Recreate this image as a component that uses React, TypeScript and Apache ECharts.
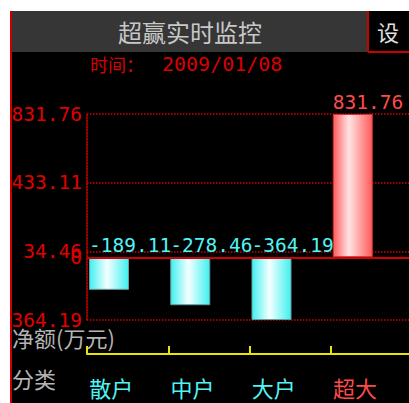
import React, { useEffect, useRef } from 'react';
import * as echarts from 'echarts';

const categories = ['散户', '中户', '大户', '超大'];
const netValues = [-189.11, -278.46, -364.19, 831.76];
const yTickLabels = ['-364.19', '34.46', '433.11', '831.76'];
const yMin = -364.19;
const yMax = 831.76;
const titleText = '超赢实时监控';
const settingText = '设';
const dateCaption = '时间：';
const dateValue = '2009/01/08';
const unitText = '净额(万元)';
const categoryTitle = '分类';

const CYAN = '#50f4f4';
const RED_TXT = '#ff4a4a';
const AXIS_RED = '#d40000';
const MONO = '"DejaVu Sans Mono", monospace';
const CJK = '"Noto Sans CJK SC", sans-serif';

export default function App() {
  const ref = useRef<HTMLDivElement>(null);
  useEffect(() => {
    if (!ref.current) return;
    const chart = echarts.init(ref.current, undefined, { renderer: 'svg' });
    const interval = Math.round(((yMax - yMin) / 3) * 100) / 100;
    const dotted = { color: AXIS_RED, width: 1.5, type: [1.5, 1.5] as any };
    const cyanGrad = new echarts.graphic.LinearGradient(0, 0, 1, 0, [
      { offset: 0, color: '#40f0f0' },
      { offset: 0.45, color: '#f4ffff' },
      { offset: 1, color: '#40f0f0' },
    ]);
    const redGrad = new echarts.graphic.LinearGradient(0, 0, 1, 0, [
      { offset: 0, color: '#ff5a5a' },
      { offset: 0.4, color: '#ffe4e4' },
      { offset: 1, color: '#ff5a5a' },
    ]);
    chart.setOption({
      animation: false,
      backgroundColor: '#000',
      grid: {
        left: 77, right: -3, top: 103, bottom: 83,
        containLabel: false,
        outerBoundsMode: 'none',
      },
      xAxis: {
        type: 'category',
        data: categories.map((c, i) => ({
          value: c,
          textStyle: { color: netValues[i] >= 0 ? RED_TXT : CYAN },
        })),
        position: 'bottom',
        offset: 34,
        axisLine: { show: true, onZero: false, lineStyle: { color: '#e6e600', width: 2 } },
        axisTick: { show: true, inside: true, length: 8, lineStyle: { color: '#e6e600', width: 2 } },
        axisLabel: {
          show: true,
          interval: 0,
          margin: 22,
          fontFamily: CJK,
          fontSize: 22,
          formatter: (v: string) => `{a|${v}}`,
          rich: { a: { width: 77, align: 'left', fontFamily: CJK, fontSize: 22 } },
        },
        splitLine: { show: false },
      },
      yAxis: {
        type: 'value',
        min: yMin,
        max: yMax,
        interval,
        axisLine: { show: true, lineStyle: dotted },
        axisTick: { show: false },
        axisLabel: {
          margin: 5,
          color: '#e00000',
          fontFamily: MONO,
          fontSize: 19.5,
          formatter: (v: number) => yTickLabels[Math.round((v - yMin) / interval)] ?? '',
        },
        splitLine: { show: true, lineStyle: dotted },
      },
      series: [
        {
          type: 'bar',
          barWidth: 40,
          barGap: '5%',
          data: netValues.map((v) => ({
            value: v,
            itemStyle: {
              color: v >= 0 ? redGrad : cyanGrad,
              borderColor: v >= 0 ? '#d03030' : '#6a9a9a',
              borderWidth: 1,
            },
            label: { color: v >= 0 ? RED_TXT : CYAN },
          })),
          label: {
            show: true,
            position: 'top',
            align: 'left',
            offset: [-20, 0],
            distance: 2,
            fontFamily: MONO,
            fontSize: 19.5,
            formatter: (p: any) => Number(p.value).toFixed(2),
          },
          markLine: {
            silent: true,
            symbol: 'none',
            data: [{ yAxis: 0 }],
            lineStyle: { color: AXIS_RED, width: 2, type: 'solid' },
            label: {
              show: true,
              position: 'start',
              formatter: '0',
              color: '#e00000',
              fontFamily: MONO,
              fontSize: 19.5,
              distance: 5,
            },
          },
        },
        {
          type: 'bar',
          barWidth: 35.25,
          silent: true,
          data: categories.map(() => '-'),
        },
      ],
      graphic: [
        { type: 'rect', shape: { x: 0, y: 0, width: 2, height: 392 }, style: { fill: '#c80000' }, z: 100 },
        { type: 'rect', shape: { x: 2, y: 0, width: 356, height: 41 }, style: { fill: '#363636' } },
        { type: 'line', shape: { x1: 358, y1: 0, x2: 358, y2: 41 }, style: { stroke: '#c80000', lineWidth: 2 } },
        { type: 'line', shape: { x1: 358, y1: 41, x2: 399, y2: 41 }, style: { stroke: '#c80000', lineWidth: 2 } },
        {
          type: 'text', x: 180, y: 20,
          style: { text: titleText, fill: '#c8c8c8', font: `24px ${CJK}`, align: 'center', verticalAlign: 'middle' },
        },
        {
          type: 'text', x: 378, y: 20,
          style: { text: settingText, fill: '#e0e0e0', font: `22px ${CJK}`, align: 'center', verticalAlign: 'middle' },
        },
        {
          type: 'text', x: 80, y: 53,
          style: { text: dateCaption, fill: '#d80000', font: `18px ${CJK}`, align: 'left', verticalAlign: 'middle' },
        },
        {
          type: 'text', x: 152, y: 53,
          style: { text: dateValue, fill: '#d80000', font: `20px ${MONO}`, align: 'left', verticalAlign: 'middle' },
        },
        {
          type: 'text', x: 2, y: 326,
          style: { text: unitText, fill: '#b4b4b4', font: `22px ${CJK}`, align: 'left', verticalAlign: 'middle' },
        },
        {
          type: 'text', x: 2, y: 367,
          style: { text: categoryTitle, fill: '#b4b4b4', font: `22px ${CJK}`, align: 'left', verticalAlign: 'middle' },
        },
      ],
    });
    return () => chart.dispose();
  }, []);
  return (
    <div
      ref={ref}
      style={{ position: 'absolute', left: 10, top: 11, width: 399, height: 392 }}
    />
  );
}
